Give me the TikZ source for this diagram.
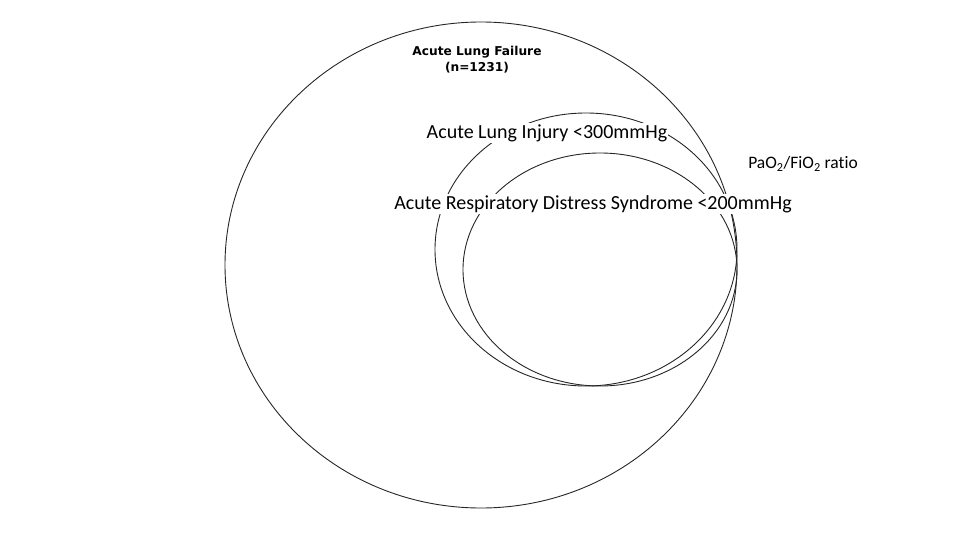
\documentclass[tikz,border=0pt]{standalone}
\usepackage{fontspec}
\setmainfont{Carlito}[Ligatures=NoCommon]
\newfontfamily\verdanafont{DejaVu Sans}
\begin{document}
\begin{tikzpicture}[x=1pt,y=-1pt,
  ring/.style={draw=black!85,line width=0.9pt},
  lbl/.style={fill=white,inner sep=1pt,font=\fontsize{20}{22}\selectfont},
  title/.style={font=\verdanafont\bfseries\fontsize{12.2}{16}\selectfont,align=center}]
\useasboundingbox (0,0) rectangle (960,540);
\draw[ring] (481,265) ellipse [x radius=256,y radius=243];
\draw[ring] (586,249.5) ellipse [x radius=151,y radius=136.5];
\draw[ring] (600,269.5) ellipse [x radius=137,y radius=116.5];
\node[title] (alf) at (477,59.5) {Acute Lung Failure\\(n=1231)};
\node[lbl] (ali) at (547,133) {Acute Lung Injury <300mmHg};
\node[lbl] (ards) at (593,204) {Acute Respiratory Distress Syndrome <200mmHg};
\node[font=\fontsize{17.5}{19}\selectfont] (ratio) at (803,164) {PaO\textsubscript{2}/FiO\textsubscript{2} ratio};
\end{tikzpicture}
\end{document}
